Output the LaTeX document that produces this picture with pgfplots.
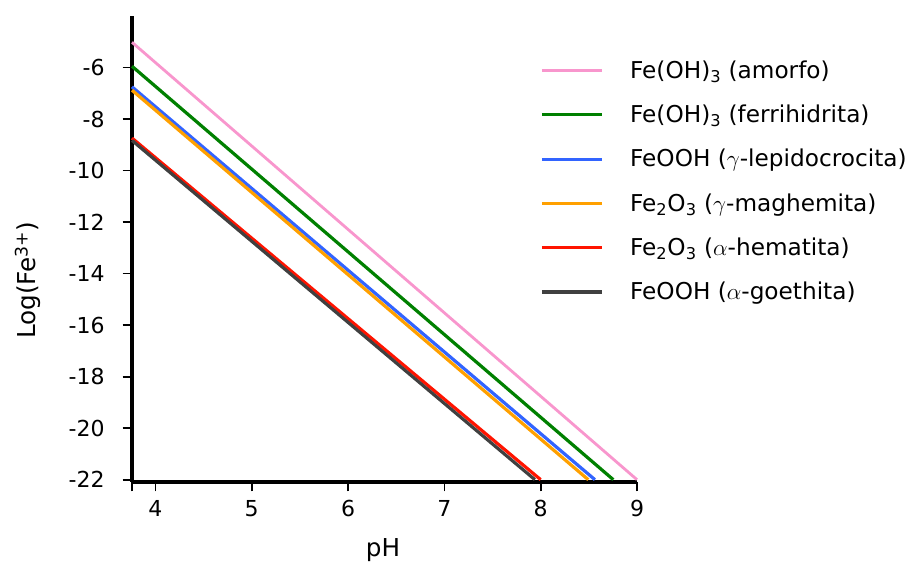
\documentclass[border=0pt]{standalone}
\usepackage{fontspec}
\setmainfont{DejaVu Sans}
\usepackage{pgfplots}
\pgfplotsset{compat=1.18}
\definecolor{cpink}{RGB}{248,150,205}
\definecolor{cgreen}{RGB}{0,128,0}
\definecolor{cblue}{RGB}{50,100,255}
\definecolor{corange}{RGB}{255,160,0}
\definecolor{cred}{RGB}{255,20,0}
\definecolor{cblack}{RGB}{64,64,64}
\begin{document}
\begin{tikzpicture}
\path[use as bounding box] (-99pt,-59.25pt) rectangle (591pt,361.5pt);
\begin{axis}[
  scale only axis,
  width=378.75pt, height=349.5pt,
  xmin=3.757, xmax=9, ymin=-22.09, ymax=-4,
  axis lines=left,
  axis line style={line width=2.3pt,-},
  tick style={line width=1.3pt,black},
  tick align=outside,
  major tick length=7pt,
  xtick={4,5,6,7,8,9},
  extra x ticks={3.757}, extra x tick labels={},
  ytick={-22,-20,-18,-16,-14,-12,-10,-8,-6},
  yticklabels={-22,-20,-18,-16,-14,-12,-10,-8,-6},
  xticklabels={4,5,6,7,8,9},
  ticklabel style={font=\fontsize{16.5}{19}\selectfont},
  yticklabel style={xshift=-10pt},
  xticklabel style={yshift=-3pt},
  xlabel={pH},
  ylabel={Log(Fe\textsuperscript{3+})},
  label style={font=\fontsize{18.5}{21}\selectfont},
  xlabel style={at={(axis description cs:0.497,-0.159)}, anchor=base},
  ylabel style={at={(axis description cs:-0.206,0.433)}, anchor=center},
  clip=false,
  legend cell align=left,
  legend image code/.code={\draw[#1] (0pt,0pt) -- (45pt,0pt);},
  legend style={draw=none, fill=none, at={(axis description cs:0.80,0.916)}, anchor=north west,
    font=\fontsize{17.4}{20}\selectfont, row sep=14.5pt,
    /tikz/every odd column/.append style={column sep=18pt}},
]
\addplot[cpink, line width=2.1pt] coordinates {(3.757,-5.02) (9.0,-22)};
\addlegendentry{Fe(OH)\textsubscript{3} (amorfo)}
\addplot[cgreen, line width=2.4pt] coordinates {(3.757,-5.95) (8.754,-22)};
\addlegendentry{Fe(OH)\textsubscript{3} (ferrihidrita)}
\addplot[cblue, line width=2.4pt] coordinates {(3.757,-6.75) (8.563,-22)};
\addlegendentry{FeOOH ($\gamma$-lepidocrocita)}
\addplot[corange, line width=2.4pt] coordinates {(3.757,-6.88) (8.494,-22)};
\addlegendentry{Fe\textsubscript{2}O\textsubscript{3} ($\gamma$-maghemita)}
\addplot[cred, line width=2.4pt] coordinates {(3.757,-8.74) (8.0,-22)};
\addlegendentry{Fe\textsubscript{2}O\textsubscript{3} ($\alpha$-hematita)}
\addplot[cblack, line width=2.4pt] coordinates {(3.757,-8.83) (7.94,-22)};
\addlegendentry{FeOOH ($\alpha$-goethita)}
\end{axis}
\end{tikzpicture}
\end{document}
